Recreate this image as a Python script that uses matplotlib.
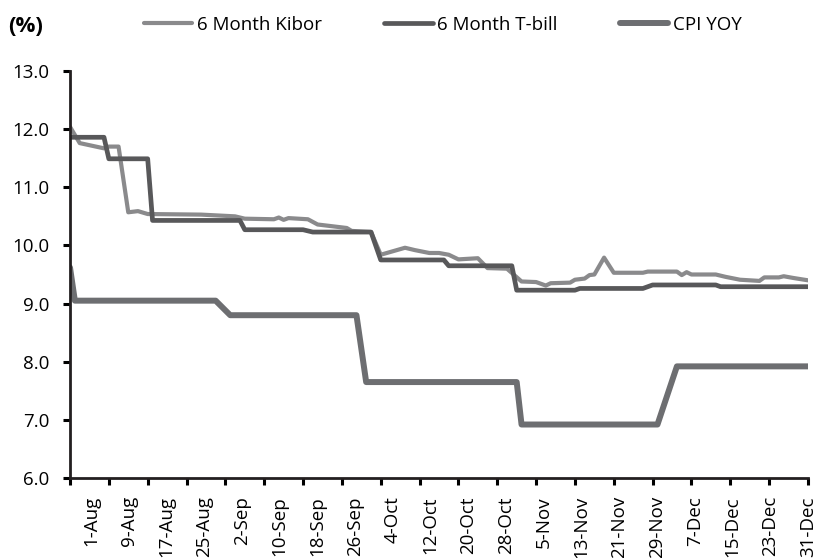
import numpy as np
import pandas as pd
import matplotlib
matplotlib.use('Agg')
from matplotlib import pyplot as plt

plt.rcParams['font.family'] = ['Open Sans', 'DejaVu Sans']

start = pd.Timestamp('2011-08-01')
end = pd.Timestamp('2011-12-31')

# days after 1-Aug, value in %
kibor_days = [0, 2, 7, 8, 10, 12, 14, 16, 27, 34, 36, 42, 43, 44, 45, 49, 51, 55, 57, 58,
              62, 64, 69, 71, 74, 76, 78, 80, 84, 86, 90, 93, 96, 98, 99, 103, 104, 106,
              107, 108, 110, 112, 118, 119, 125, 126, 127, 128, 133, 135, 138, 142, 143,
              146, 147, 149, 152]
kibor = [12.04, 11.76, 11.67, 11.70, 11.70, 10.57, 10.59, 10.54, 10.53, 10.50, 10.46, 10.45,
         10.48, 10.44, 10.47, 10.45, 10.36, 10.32, 10.30, 10.25, 10.23, 9.84, 9.96, 9.92,
         9.87, 9.87, 9.84, 9.76, 9.78, 9.61, 9.60, 9.38, 9.37, 9.31, 9.35, 9.36, 9.41, 9.43,
         9.49, 9.50, 9.79, 9.53, 9.53, 9.55, 9.55, 9.49, 9.54, 9.50, 9.50, 9.46, 9.41, 9.39,
         9.45, 9.45, 9.47, 9.44, 9.40]

tbill_days = [0, 7, 8, 16, 17, 35, 36, 48, 50, 62, 64, 77, 78, 91, 92, 104, 105, 118, 120,
              133, 134, 152]
tbill = [11.86, 11.86, 11.49, 11.49, 10.43, 10.43, 10.27, 10.27, 10.23, 10.23, 9.75, 9.75,
         9.65, 9.65, 9.23, 9.23, 9.26, 9.26, 9.32, 9.32, 9.29, 9.29]

cpi_days = [0, 1, 30, 33, 59, 61, 92, 93, 121, 125, 152]
cpi = [9.62, 9.05, 9.05, 8.80, 8.80, 7.65, 7.65, 6.92, 6.92, 7.92, 7.92]

tick_dates = pd.date_range(start, end, freq='8D')

c_kibor = '#8a8a8c'
c_tbill = '#58585a'
c_cpi = '#6d6e71'
FS = 13.5


def to_dates(days):
    return start + pd.to_timedelta(days, unit='D')


fig = plt.figure(figsize=(8.19, 5.58), dpi=100)
ax = fig.add_axes([70 / 819, 1 - 478 / 558, 738 / 819, 407 / 558])

ax.plot(to_dates(kibor_days), kibor, c=c_kibor, lw=3.0, label='6 Month Kibor',
        solid_joinstyle='round', solid_capstyle='round')
ax.plot(to_dates(tbill_days), tbill, c=c_tbill, lw=3.4, label='6 Month T-bill',
        solid_joinstyle='round', solid_capstyle='round')
ax.plot(to_dates(cpi_days), cpi, c=c_cpi, lw=4.3, label='CPI YOY',
        solid_joinstyle='round', solid_capstyle='round')

ax.set_xlim(start, end)
ax.set_ylim(6, 13)
ax.set_yticks(np.arange(6, 13.5, 1.0))
ax.yaxis.set_major_formatter(matplotlib.ticker.FormatStrFormatter('%.1f'))

# tick marks on the dates, labels nudged to the right like the source workbook
ax.xaxis.remove_overlapping_locs = False
ax.set_xticks(tick_dates)
ax.set_xticklabels([])
shift = np.linspace(4.3, 0.0, len(tick_dates))
label_pos = tick_dates + pd.to_timedelta(shift, unit='D')
ax.set_xticks(label_pos, minor=True)
ax.set_xticklabels([f'{d.day}-{d.strftime("%b")}' for d in tick_dates], minor=True,
                   rotation=90, fontsize=FS)
ax.tick_params(axis='x', which='minor', length=0, pad=13)
ax.tick_params(axis='x', which='major', length=5, width=2.2, direction='out')
ax.tick_params(axis='y', length=5, width=2.2, direction='out', labelsize=FS, pad=10)

for s in ['top', 'right']:
    ax.spines[s].set_visible(False)
for s in ['left', 'bottom']:
    ax.spines[s].set_linewidth(2.0)
    ax.spines[s].set_color('#231f20')

fig.text(8 / 819, 1 - 27 / 558, '(%)', fontsize=16, fontweight='bold', va='center', ha='left')
fig.legend(loc='center left', bbox_to_anchor=(136 / 819, 1 - 25 / 558), ncol=3, frameon=False,
           fontsize=FS, handlelength=2.6, handletextpad=0.25, columnspacing=3.3, borderaxespad=0)

fig.savefig('out.png', dpi=100)
